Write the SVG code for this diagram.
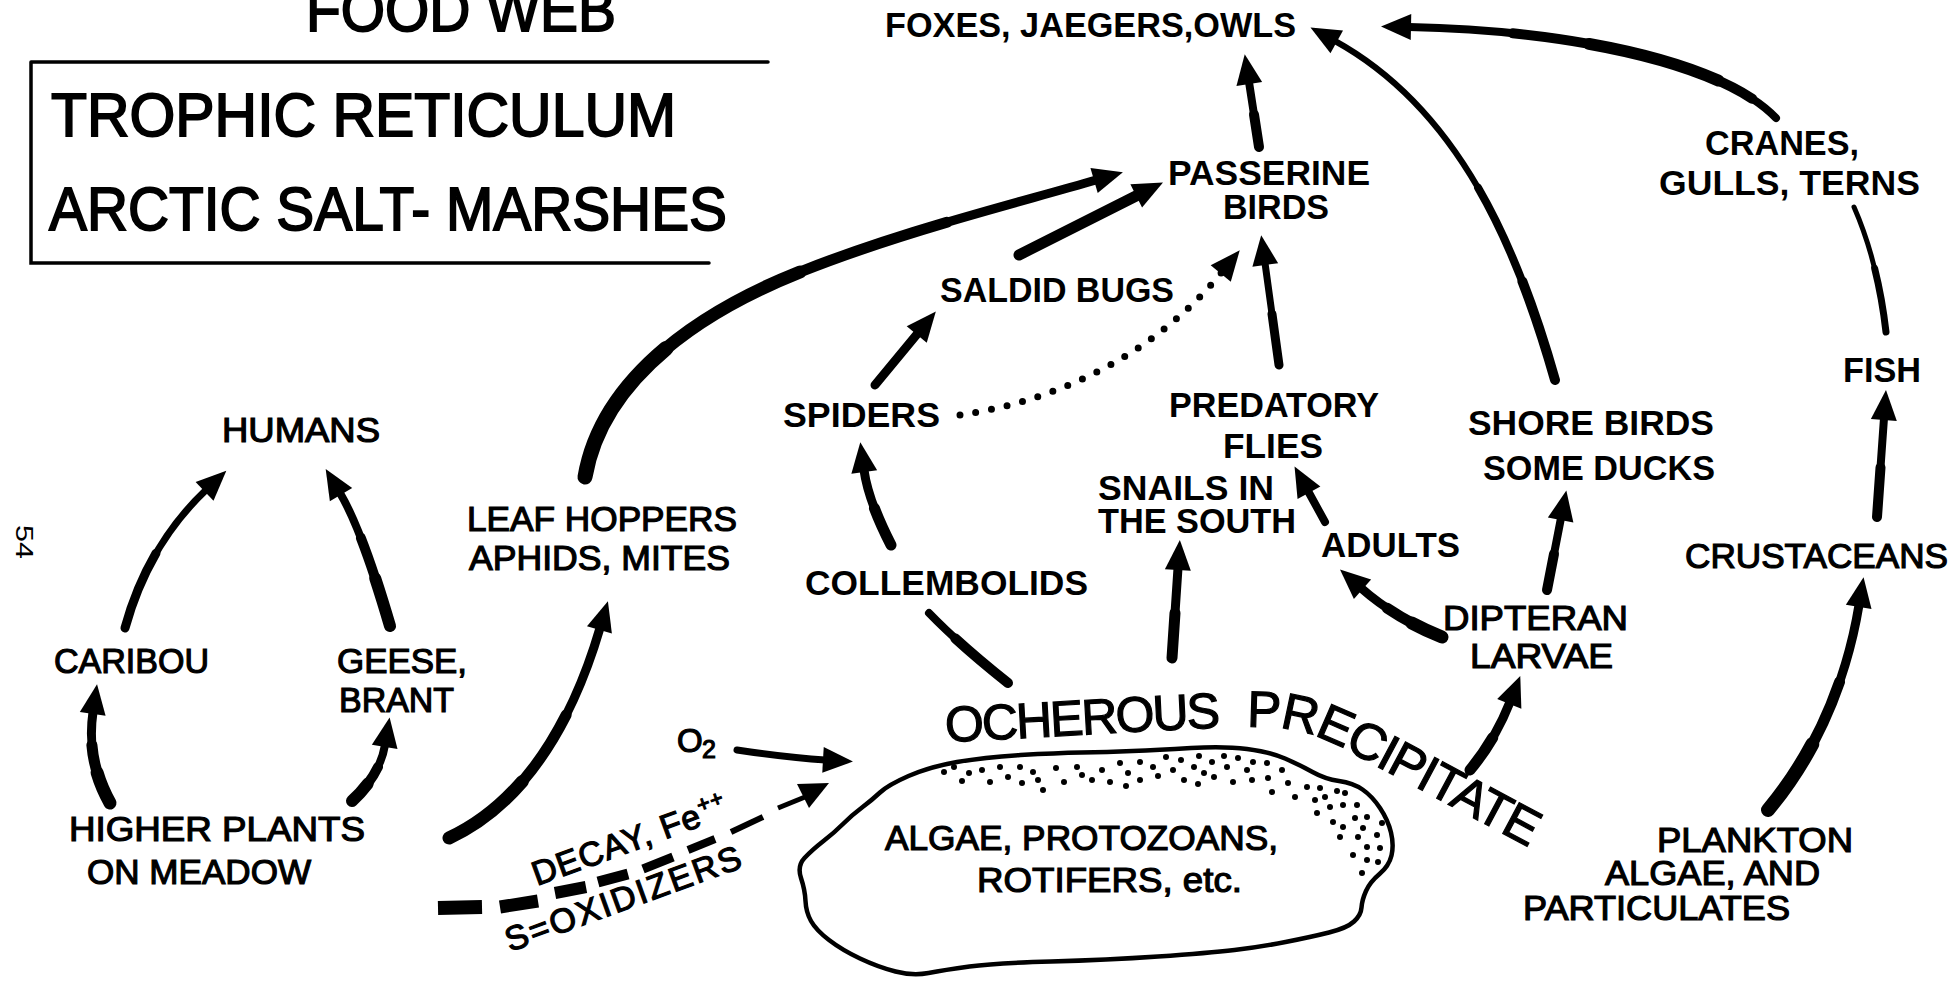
<svg xmlns="http://www.w3.org/2000/svg" width="1960" height="988" viewBox="0 0 1960 988">
<style>
text{font-family:"Liberation Sans",Arial,sans-serif;fill:#000}
.ti{font-size:61px;stroke:#000;stroke-width:1.8px}
.lb{font-size:35px;font-weight:bold}
.lr{font-size:35px;stroke:#000;stroke-width:1.2px}
.th{stroke:#000;stroke-width:1.2px}
.st{fill:none;stroke:#000;stroke-linecap:round;stroke-linejoin:round}
.tp{fill:none;stroke:#000;stroke-linecap:round}
.d25{stroke-dasharray:25 200}
.d35{stroke-dasharray:35 200}
.d50{stroke-dasharray:50 200}
.d65{stroke-dasharray:65 200}
.d75{stroke-dasharray:75 200}
.ar{marker-end:url(#ah)}
.dash{stroke:#000;fill:none;stroke-linecap:butt}
.dot{fill:#000}
</style>
<defs>
<marker id="ah" markerUnits="userSpaceOnUse" viewBox="-3 -14 32 28" markerWidth="32" markerHeight="28" refX="0" refY="0" orient="auto">
<path d="M-2,-13 L28,0 L-2,13 Z" fill="#000"/>
</marker>
<path id="ocp" d="M944,742 C1060,737 1190,727 1262,727 C1300,728 1325,738 1350,752 L1545,856"/>
</defs>
<rect width="1960" height="988" fill="#fff"/>

<g id="title">
<text class="ti" x="306" y="31" textLength="310" lengthAdjust="spacingAndGlyphs">FOOD WEB</text>
<path d="M31,62 H768 M31,62 V263 H709" fill="none" stroke="#000" stroke-width="3.5" stroke-linecap="round"/>
<text class="ti" x="51" y="136" textLength="625" lengthAdjust="spacingAndGlyphs">TROPHIC RETICULUM</text>
<text class="ti" x="49" y="230" textLength="678" lengthAdjust="spacingAndGlyphs">ARCTIC SALT- MARSHES</text>
</g>

<g id="page-number">
<text transform="translate(16,525) rotate(90)" font-size="24" textLength="34" lengthAdjust="spacingAndGlyphs">54</text>
</g>

<g id="connectors">
<!-- higher plants -> caribou -->
<path class="st ar" stroke-width="9" d="M110,803 Q86,760 93,712"/>
<path class="tp d65" stroke-width="11" pathLength="100" d="M110,803 Q86,760 93,712"/>
<path class="tp d35" stroke-width="13" pathLength="100" d="M110,803 Q86,760 93,712"/>
<!-- higher plants -> geese -->
<path class="st ar" stroke-width="8" d="M352,801 Q380,775 385,745"/>
<path class="tp d65" stroke-width="10" pathLength="100" d="M352,801 Q380,775 385,745"/>
<path class="tp d35" stroke-width="12" pathLength="100" d="M352,801 Q380,775 385,745"/>
<!-- caribou -> humans -->
<path class="st ar" stroke-width="7" d="M125,628 Q148,545 206,490"/>
<path class="tp d50" stroke-width="9" pathLength="100" d="M125,628 Q148,545 206,490"/>
<!-- geese -> humans -->
<path class="st ar" stroke-width="8" d="M390,626 Q362,530 340,493"/>
<path class="tp d65" stroke-width="10" pathLength="100" d="M390,626 Q362,530 340,493"/>
<path class="tp d35" stroke-width="12" pathLength="100" d="M390,626 Q362,530 340,493"/>
<!-- higher plants -> leaf hoppers -->
<path class="st ar" stroke-width="9" d="M449,838 C520,805 570,730 600,628"/>
<path class="tp d65" stroke-width="11" pathLength="100" d="M449,838 C520,805 570,730 600,628"/>
<path class="tp d35" stroke-width="13" pathLength="100" d="M449,838 C520,805 570,730 600,628"/>
<!-- leaf hoppers -> passerine -->
<path class="st ar" stroke-width="9" d="M585,477 C600,390 680,320 800,272 C900,232 1010,205 1096,180"/>
<path class="tp d75" stroke-width="11" pathLength="100" d="M585,477 C600,390 680,320 800,272 C900,232 1010,205 1096,180"/>
<path class="tp d50" stroke-width="13" pathLength="100" d="M585,477 C600,390 680,320 800,272 C900,232 1010,205 1096,180"/>
<path class="tp d25" stroke-width="15" pathLength="100" d="M585,477 C600,390 680,320 800,272 C900,232 1010,205 1096,180"/>
<!-- saldid -> passerine -->
<path class="st ar" stroke-width="11" d="M1019,255 L1138,195"/>
<!-- passerine -> foxes -->
<path class="st ar" stroke-width="8" d="M1259,147 L1249,82"/>
<path class="tp d50" stroke-width="10" pathLength="100" d="M1259,147 L1249,82"/>
<!-- shore birds -> foxes -->
<path class="st ar" stroke-width="6" d="M1555,380 C1518,250 1460,110 1335,41"/>
<path class="tp d50" stroke-width="8" pathLength="100" d="M1555,380 C1518,250 1460,110 1335,41"/>
<path class="tp d25" stroke-width="10" pathLength="100" d="M1555,380 C1518,250 1460,110 1335,41"/>
<!-- cranes -> foxes -->
<path class="st ar" stroke-width="8" d="M1776,118 C1720,60 1560,30 1409,27"/>
<path class="tp d65" stroke-width="10" pathLength="100" stroke-dashoffset="-8" d="M1776,118 C1720,60 1560,30 1409,27"/>
<path class="tp d35" stroke-width="12" pathLength="100" stroke-dashoffset="-18" d="M1776,118 C1720,60 1560,30 1409,27"/>
<!-- fish - cranes -->
<path class="st" stroke-width="5" d="M1886,332 Q1878,262 1854,207"/>
<path class="tp d50" stroke-width="7" pathLength="100" d="M1886,332 Q1878,262 1854,207"/>
<!-- crustaceans -> fish -->
<path class="st ar" stroke-width="8" d="M1877,517 L1884,418"/>
<path class="tp d50" stroke-width="10" pathLength="100" d="M1877,517 L1884,418"/>
<!-- plankton -> crustaceans -->
<path class="st ar" stroke-width="9" d="M1768,810 C1810,760 1845,690 1859,605"/>
<path class="tp d65" stroke-width="11" pathLength="100" d="M1768,810 C1810,760 1845,690 1859,605"/>
<path class="tp d35" stroke-width="14" pathLength="100" d="M1768,810 C1810,760 1845,690 1859,605"/>
<!-- ocherous -> dipteran -->
<path class="st ar" stroke-width="9" d="M1470,770 Q1495,740 1510,702"/>
<path class="tp d50" stroke-width="11" pathLength="100" d="M1470,770 Q1495,740 1510,702"/>
<!-- dipteran -> shore birds -->
<path class="st ar" stroke-width="8" d="M1547,590 L1561,518"/>
<path class="tp d50" stroke-width="10" pathLength="100" d="M1547,590 L1561,518"/>
<!-- dipteran -> adults -->
<path class="st ar" stroke-width="9" d="M1442,637 Q1395,618 1361,588"/>
<path class="tp d65" stroke-width="11" pathLength="100" d="M1442,637 Q1395,618 1361,588"/>
<path class="tp d35" stroke-width="13" pathLength="100" d="M1442,637 Q1395,618 1361,588"/>
<!-- adults -> predatory flies -->
<path class="st ar" stroke-width="8" d="M1325,522 L1308,491"/>
<!-- ocherous -> snails -->
<path class="st ar" stroke-width="9" d="M1172,658 L1178,568"/>
<path class="tp d50" stroke-width="11" pathLength="100" d="M1172,658 L1178,568"/>
<!-- predatory flies -> passerine -->
<path class="st ar" stroke-width="7" d="M1279,365 L1265,263"/>
<path class="tp d50" stroke-width="9" pathLength="100" d="M1279,365 L1265,263"/>
<!-- collembolids -> spiders -->
<path class="st ar" stroke-width="9" d="M891,545 Q868,500 864,470"/>
<path class="tp d50" stroke-width="11" pathLength="100" d="M891,545 Q868,500 864,470"/>
<!-- spiders -> saldid bugs -->
<path class="st ar" stroke-width="9" d="M875,385 L918,333"/>
<!-- spiders ... passerine (dotted) -->
<path class="st ar" stroke-width="7" stroke-dasharray="0 16" d="M960,415 C1050,402 1150,360 1222,272"/>
<!-- O2 -> precipitate -->
<path class="st ar" stroke-width="7" d="M737,750 Q790,758 825,760"/>
<!-- ocherous - collembolids -->
<path class="st" stroke-width="8" d="M1008,683 Q960,645 929,613"/>
<path class="tp d65" stroke-width="10" pathLength="100" d="M1008,683 Q960,645 929,613"/>
<!-- decay, Fe++ (dashed) -->
<g id="decay-dashes">
<path class="dash" stroke-width="14" d="M438,908 L482,907"/>
<path class="dash" stroke-width="13" d="M500,907 L538,901"/>
<path class="dash" stroke-width="12" d="M555,893 L586,887"/>
<path class="dash" stroke-width="11" d="M598,882 L628,874"/>
<path class="dash" stroke-width="9" d="M643,869 L673,857"/>
<path class="dash" stroke-width="8" d="M688,850 L715,839"/>
<path class="dash" stroke-width="6" d="M731,832 L763,817"/>
<path class="dash" stroke-width="5" d="M778,808 L805,797"/>
<path d="M829,783 L797,784 L809,808 Z" fill="#000"/>
</g>
</g>

<g id="foxes"><text class="lb" x="885" y="37" textLength="411" lengthAdjust="spacingAndGlyphs">FOXES, JAEGERS,OWLS</text></g>
<g id="passerine">
<text class="lb" x="1168" y="185" textLength="202" lengthAdjust="spacingAndGlyphs">PASSERINE</text>
<text class="lb" x="1223" y="219" textLength="106" lengthAdjust="spacingAndGlyphs">BIRDS</text>
</g>
<g id="saldid"><text class="lb" x="940" y="302" textLength="234" lengthAdjust="spacingAndGlyphs">SALDID BUGS</text></g>
<g id="spiders"><text class="lb" x="783" y="427" textLength="157" lengthAdjust="spacingAndGlyphs">SPIDERS</text></g>
<g id="predatory">
<text class="lb" x="1169" y="417" textLength="210" lengthAdjust="spacingAndGlyphs">PREDATORY</text>
<text class="lb" x="1223" y="458" textLength="100" lengthAdjust="spacingAndGlyphs">FLIES</text>
</g>
<g id="snails">
<text class="lb" x="1098" y="500" textLength="176" lengthAdjust="spacingAndGlyphs">SNAILS IN</text>
<text class="lb" x="1098" y="533" textLength="198" lengthAdjust="spacingAndGlyphs">THE SOUTH</text>
</g>
<g id="adults"><text class="lb" x="1321" y="557" textLength="139" lengthAdjust="spacingAndGlyphs">ADULTS</text></g>
<g id="collembolids"><text class="lb" x="805" y="595" textLength="283" lengthAdjust="spacingAndGlyphs">COLLEMBOLIDS</text></g>
<g id="humans"><text class="lr" x="222" y="442" textLength="158" lengthAdjust="spacingAndGlyphs">HUMANS</text></g>
<g id="caribou"><text class="lr" x="54" y="673" textLength="155" lengthAdjust="spacingAndGlyphs">CARIBOU</text></g>
<g id="geese">
<text class="lr" x="337" y="673" textLength="130" lengthAdjust="spacingAndGlyphs">GEESE,</text>
<text class="lr" x="339" y="712" textLength="115" lengthAdjust="spacingAndGlyphs">BRANT</text>
</g>
<g id="higher-plants">
<text class="lr" x="69" y="841" textLength="296" lengthAdjust="spacingAndGlyphs">HIGHER PLANTS</text>
<text class="lr" x="87" y="884" textLength="224" lengthAdjust="spacingAndGlyphs">ON MEADOW</text>
</g>
<g id="leafhoppers">
<text class="lr" x="467" y="531" textLength="270" lengthAdjust="spacingAndGlyphs">LEAF HOPPERS</text>
<text class="lr" x="469" y="570" textLength="261" lengthAdjust="spacingAndGlyphs">APHIDS, MITES</text>
</g>
<g id="cranes">
<text class="lb" x="1705" y="155" textLength="154" lengthAdjust="spacingAndGlyphs">CRANES,</text>
<text class="lb" x="1659" y="195" textLength="261" lengthAdjust="spacingAndGlyphs">GULLS, TERNS</text>
</g>
<g id="fish"><text class="lb" x="1843" y="382" textLength="78" lengthAdjust="spacingAndGlyphs">FISH</text></g>
<g id="shorebirds">
<text class="lb" x="1468" y="435" textLength="246" lengthAdjust="spacingAndGlyphs">SHORE BIRDS</text>
<text class="lb" x="1483" y="480" textLength="232" lengthAdjust="spacingAndGlyphs">SOME DUCKS</text>
</g>
<g id="crustaceans"><text class="lr" x="1685" y="568" textLength="263" lengthAdjust="spacingAndGlyphs">CRUSTACEANS</text></g>
<g id="dipteran">
<text class="lr" x="1443" y="630" textLength="185" lengthAdjust="spacingAndGlyphs">DIPTERAN</text>
<text class="lr" x="1470" y="668" textLength="143" lengthAdjust="spacingAndGlyphs">LARVAE</text>
</g>
<g id="plankton">
<text class="lr" x="1657" y="852" textLength="196" lengthAdjust="spacingAndGlyphs">PLANKTON</text>
<text class="lr" x="1605" y="885" textLength="215" lengthAdjust="spacingAndGlyphs">ALGAE, AND</text>
<text class="lr" x="1523" y="920" textLength="267" lengthAdjust="spacingAndGlyphs">PARTICULATES</text>
</g>
<g id="o2">
<text class="th" font-size="33" x="677" y="752">O</text>
<text class="th" font-size="25" x="702" y="758">2</text>
</g>
<g id="decay-label">
<text class="th" transform="translate(537,886) rotate(-20)" font-size="34" letter-spacing="1">DECAY, Fe<tspan dy="-13" font-size="22">++</tspan></text>
<text class="th" transform="translate(510,952) rotate(-20)" font-size="34" letter-spacing="2.3">S=OXIDIZERS</text>
</g>

<g id="ocherous">
<path d="M880,792.5 Q888,785 908.5,776 Q929,767 957,762 Q985,757 1020.5,755 Q1056,753 1081.5,752.5 Q1107,752 1132.5,751 Q1158,750 1191,748 Q1224,746 1247,749 Q1270,752 1285,758.5 Q1300,765 1312.5,772 Q1325,779 1339,781 Q1353,783 1362.5,789.5 Q1372,796 1380,808 Q1388,820 1391,832.5 Q1394,845 1391.5,855.5 Q1389,866 1379.5,874 Q1370,882 1366,891 Q1362,900 1361.5,907.5 Q1361,915 1354,921.5 Q1347,928 1329,932.5 Q1311,937 1285.5,942 Q1260,947 1234.5,950 Q1209,953 1158,956.5 Q1107,960 1051,961.5 Q995,963 969.5,966.5 Q944,970 928.5,973 Q913,976 895.5,971.5 Q878,967 860,958.5 Q842,950 829,940 Q816,930 811,921 Q806,912 805.5,901 Q805,890 801,878 Q797,866 804.5,858 Q812,850 823.5,841 Q835,832 843.5,823.5 Q852,815 862,807.5 Q872,800 880,792.5 Z" fill="#fff" stroke="#000" stroke-width="4.5"/>
<g id="stipple" class="dot">
<circle cx="944" cy="772" r="3"/><circle cx="954" cy="767" r="3"/><circle cx="969" cy="773" r="3"/><circle cx="982" cy="770" r="3"/><circle cx="990" cy="782" r="3"/><circle cx="1000" cy="767" r="3"/><circle cx="1008" cy="777" r="3"/><circle cx="1020" cy="767" r="3"/><circle cx="1033" cy="772" r="3"/><circle cx="1038" cy="780" r="3"/><circle cx="1043" cy="790" r="3"/><circle cx="1056" cy="768" r="3"/><circle cx="1064" cy="782" r="3"/><circle cx="1077" cy="767" r="3"/><circle cx="1082" cy="775" r="3"/><circle cx="1092" cy="780" r="3"/><circle cx="1102" cy="770" r="3"/><circle cx="1110" cy="782" r="3"/><circle cx="1120" cy="763" r="3"/><circle cx="1128" cy="773" r="3"/><circle cx="1140" cy="762" r="3"/><circle cx="1140" cy="780" r="3"/><circle cx="1153" cy="767" r="3"/><circle cx="1158" cy="776" r="3"/><circle cx="1166" cy="757" r="3"/><circle cx="1173" cy="770" r="3"/><circle cx="1181" cy="760" r="3"/><circle cx="1184" cy="780" r="3"/><circle cx="1194" cy="767" r="3"/><circle cx="1199" cy="756" r="3"/><circle cx="1204" cy="773" r="3"/><circle cx="1212" cy="762" r="3"/><circle cx="1214" cy="777" r="3"/><circle cx="1224" cy="756" r="3"/><circle cx="1227" cy="767" r="3"/><circle cx="1233" cy="782" r="3"/><circle cx="1238" cy="758" r="3"/><circle cx="1247" cy="770" r="3"/><circle cx="1252" cy="780" r="3"/><circle cx="1253" cy="762" r="3"/><circle cx="1267" cy="763" r="3"/><circle cx="1268" cy="778" r="3"/><circle cx="1272" cy="792" r="3"/><circle cx="1282" cy="770" r="3"/><circle cx="1288" cy="783" r="3"/><circle cx="1295" cy="797" r="3"/><circle cx="1307" cy="787" r="3"/><circle cx="1315" cy="800" r="3"/><circle cx="1320" cy="788" r="3"/><circle cx="1325" cy="797" r="3"/><circle cx="1317" cy="813" r="3"/><circle cx="1330" cy="807" r="3"/><circle cx="1337" cy="791" r="3"/><circle cx="1343" cy="805" r="3"/><circle cx="1345" cy="793" r="3"/><circle cx="1357" cy="805" r="3"/><circle cx="1333" cy="822" r="3"/><circle cx="1343" cy="827" r="3"/><circle cx="1355" cy="818" r="3"/><circle cx="1367" cy="817" r="3"/><circle cx="1363" cy="828" r="3"/><circle cx="1382" cy="823" r="3"/><circle cx="1340" cy="837" r="3"/><circle cx="1358" cy="837" r="3"/><circle cx="1377" cy="835" r="3"/><circle cx="1367" cy="847" r="3"/><circle cx="1380" cy="848" r="3"/><circle cx="1353" cy="855" r="3"/><circle cx="1367" cy="860" r="3"/><circle cx="1378" cy="862" r="3"/><circle cx="1362" cy="873" r="3"/><circle cx="962" cy="781" r="3"/><circle cx="1022" cy="783" r="3"/><circle cx="1126" cy="786" r="3"/><circle cx="1198" cy="784" r="3"/>
</g>
<text class="lr" font-size="34" x="885" y="850" textLength="393" lengthAdjust="spacingAndGlyphs">ALGAE, PROTOZOANS,</text>
<text class="lr" font-size="34" x="977" y="892" textLength="265" lengthAdjust="spacingAndGlyphs">ROTIFERS, etc.</text>
<text class="th" font-size="50" letter-spacing="-2"><textPath href="#ocp" startOffset="2">OCHEROUS</textPath></text>
<text class="th" font-size="51" letter-spacing="-1.6"><textPath href="#ocp" startOffset="303">PRECIPITATE</textPath></text>
</g>
</svg>
